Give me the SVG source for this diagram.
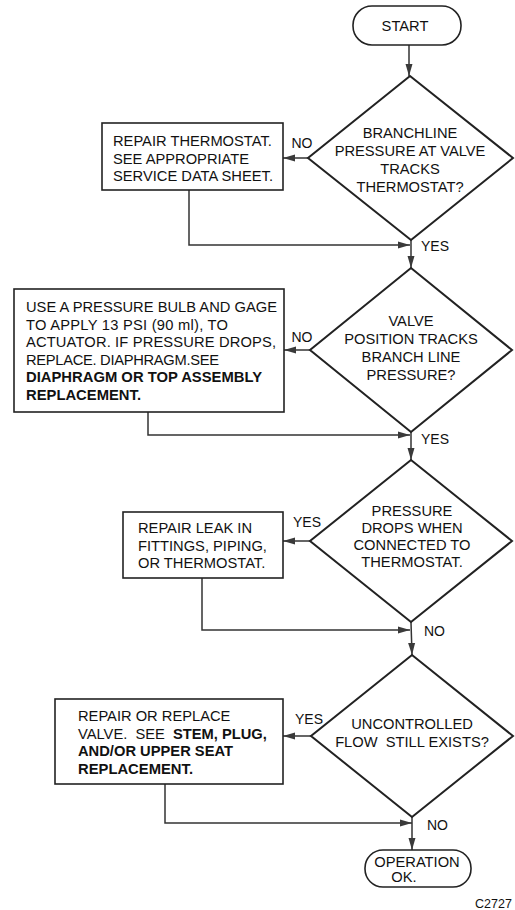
<svg xmlns="http://www.w3.org/2000/svg" width="515" height="910" viewBox="0 0 515 910">
<defs>
<marker id="ah" viewBox="0 0 12 8" refX="12" refY="4" markerWidth="12" markerHeight="8" markerUnits="userSpaceOnUse" orient="auto">
<path d="M0,0.5 L12,4 L0,7.5 Z" fill="#3a3a3a"/>
</marker>
</defs>
<style>
.shape{fill:#fff;stroke:#222;stroke-width:1.6}
.dia{fill:#fff;stroke:#222;stroke-width:2}
.ln{fill:none;stroke:#333;stroke-width:1.5}
text{font-family:"Liberation Sans",Arial,sans-serif;font-size:14.7px;fill:#111}
.c{text-anchor:middle}
.b{font-weight:bold}
.lbl{font-size:14px}
</style>
<rect width="515" height="910" fill="#fff"/>

<g id="connectors">
<path class="ln" d="M409,45 L409,76" marker-end="url(#ah)"/>
<path class="ln" d="M308,158 L283,158" marker-end="url(#ah)"/>
<path class="ln" d="M189,190 L189,245 L410,245" marker-end="url(#ah)"/>
<path class="ln" d="M411,240 L411,268" marker-end="url(#ah)"/>
<path class="ln" d="M310,350 L284,350" marker-end="url(#ah)"/>
<path class="ln" d="M148,412 L148,435 L410,435" marker-end="url(#ah)"/>
<path class="ln" d="M411,432 L411,460" marker-end="url(#ah)"/>
<path class="ln" d="M310,541 L283,541" marker-end="url(#ah)"/>
<path class="ln" d="M202,578 L202,630 L410,630" marker-end="url(#ah)"/>
<path class="ln" d="M411,622 L412,655" marker-end="url(#ah)"/>
<path class="ln" d="M311,736 L283,736" marker-end="url(#ah)"/>
<path class="ln" d="M165,784 L165,823 L412,823" marker-end="url(#ah)"/>
<path class="ln" d="M412,817 L412,850" marker-end="url(#ah)"/>
<text class="lbl" x="302" y="148" text-anchor="middle">NO</text>
<text class="lbl" x="421" y="251">YES</text>
<text class="lbl" x="302" y="342" text-anchor="middle">NO</text>
<text class="lbl" x="421" y="444">YES</text>
<text class="lbl" x="293" y="527">YES</text>
<text class="lbl" x="424" y="636">NO</text>
<text class="lbl" x="295" y="724">YES</text>
<text class="lbl" x="427" y="830">NO</text>
</g>

<g id="start">
<rect class="shape" x="353" y="6" width="108" height="39" rx="19"/>
<text class="c" x="405" y="31">START</text>
</g>

<g id="d1">
<polygon class="dia" points="410,76 513,158 411,240 308,158"/>
<text class="c" x="410" y="138">BRANCHLINE</text>
<text class="c" x="410" y="156">PRESSURE AT VALVE</text>
<text class="c" x="410" y="174">TRACKS</text>
<text class="c" x="410" y="192">THERMOSTAT?</text>
</g>

<g id="b1">
<rect class="shape" x="102" y="123" width="181" height="67"/>
<text x="113" y="146">REPAIR THERMOSTAT.</text>
<text x="113" y="163.5">SEE APPROPRIATE</text>
<text x="113" y="181">SERVICE DATA SHEET.</text>
</g>

<g id="d2">
<polygon class="dia" points="411,268 512,350 411,432 310,350"/>
<text class="c" x="411" y="326">VALVE</text>
<text class="c" x="411" y="344">POSITION TRACKS</text>
<text class="c" x="411" y="362">BRANCH LINE</text>
<text class="c" x="411" y="380">PRESSURE?</text>
</g>

<g id="b2">
<rect class="shape" x="14" y="289" width="270" height="123"/>
<text x="26" y="312" textLength="251" lengthAdjust="spacing">USE A PRESSURE BULB AND GAGE</text>
<text x="26" y="329.5" textLength="202" lengthAdjust="spacing">TO APPLY 13 PSI (90 ml), TO</text>
<text x="26" y="347" textLength="250" lengthAdjust="spacing">ACTUATOR.  IF PRESSURE DROPS,</text>
<text x="26" y="364.5" textLength="193" lengthAdjust="spacing">REPLACE. DIAPHRAGM.SEE</text>
<text class="b" x="26" y="382" textLength="236" lengthAdjust="spacingAndGlyphs">DIAPHRAGM OR TOP ASSEMBLY</text>
<text class="b" x="26" y="399.5" textLength="115" lengthAdjust="spacingAndGlyphs">REPLACEMENT.</text>
</g>

<g id="d3">
<polygon class="dia" points="411,460 512,541 411,622 310,541"/>
<text class="c" x="412" y="516">PRESSURE</text>
<text class="c" x="412" y="533">DROPS WHEN</text>
<text class="c" x="412" y="550">CONNECTED TO</text>
<text class="c" x="412" y="567">THERMOSTAT.</text>
</g>

<g id="b3">
<rect class="shape" x="123" y="512" width="160" height="66"/>
<text x="138" y="533">REPAIR LEAK IN</text>
<text x="138" y="550.5">FITTINGS, PIPING,</text>
<text x="138" y="568">OR THERMOSTAT.</text>
</g>

<g id="d4">
<polygon class="dia" points="412,655 513,736 412,817 311,736"/>
<text class="c" x="412" y="729">UNCONTROLLED</text>
<text class="c" x="412" y="747" xml:space="preserve">FLOW  STILL EXISTS?</text>
</g>

<g id="b4">
<rect class="shape" x="55" y="699" width="228" height="85"/>
<text x="78" y="721">REPAIR OR REPLACE</text>
<text x="78" y="738.5" xml:space="preserve">VALVE.  SEE  <tspan class="b">STEM, PLUG,</tspan></text>
<text class="b" x="78" y="756" textLength="155" lengthAdjust="spacingAndGlyphs">AND/OR UPPER SEAT</text>
<text class="b" x="78" y="773.5" textLength="115" lengthAdjust="spacingAndGlyphs">REPLACEMENT.</text>
</g>

<g id="end">
<rect class="shape" x="365" y="850" width="106" height="37" rx="18"/>
<text class="c" x="417" y="867">OPERATION</text>
<text class="c" x="404" y="882">OK.</text>
</g>

<text x="475" y="908" style="font-size:12.5px">C2727</text>
</svg>
